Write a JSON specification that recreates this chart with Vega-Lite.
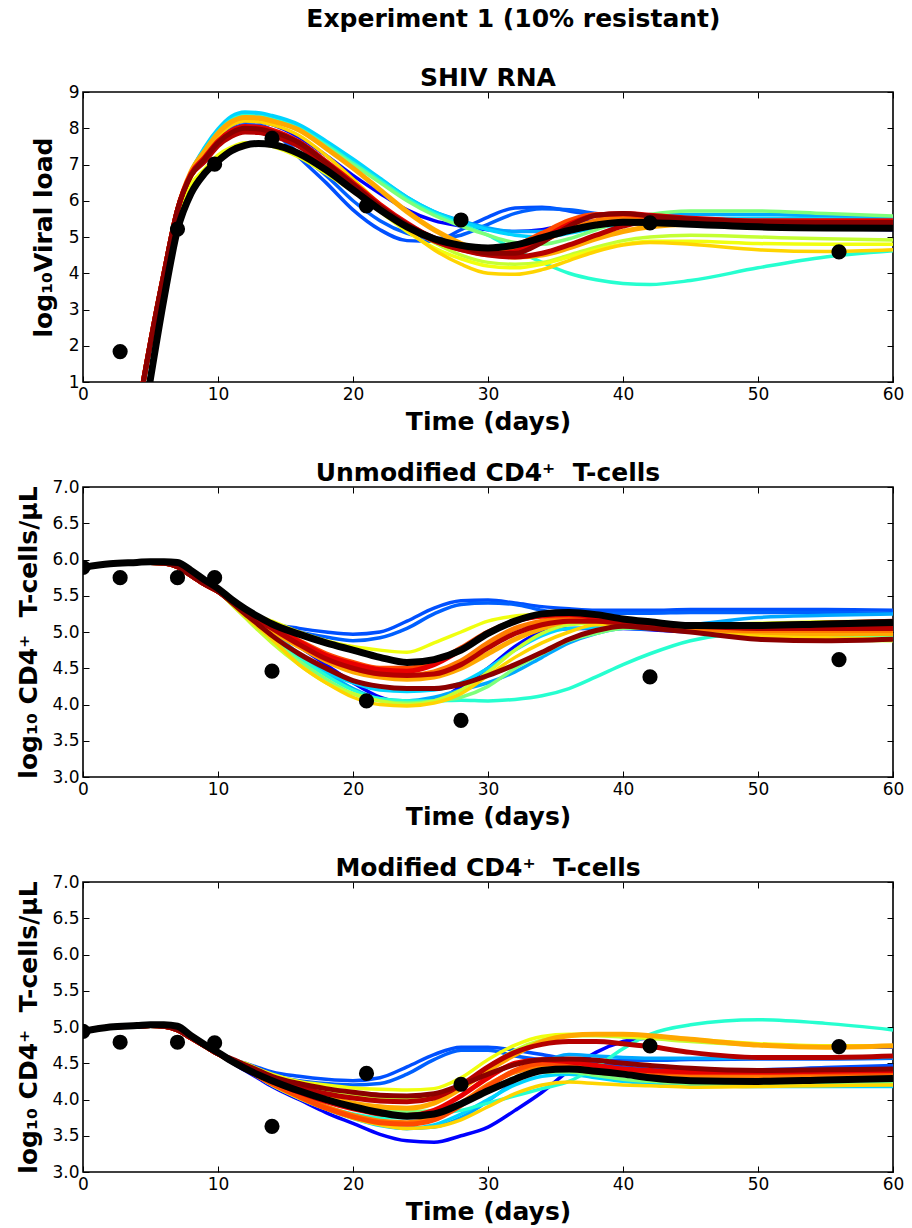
{
  "$schema": "https://vega.github.io/schema/vega-lite/v6.json",
  "background": "white",
  "padding": {"left": 16, "top": 7, "right": 10, "bottom": 5},
  "title": {"text": "Experiment 1 (10% resistant)", "fontSize": 25, "anchor": "middle", "offset": 33, "dx": 53},
  "spacing": 25,
  "config": {
    "font": "DejaVu Sans",
    "view": {"stroke": "black", "strokeWidth": 1.6},
    "axis": {"grid": false, "domain": false, "tickColor": "black", "tickSize": -6, "tickWidth": 1, "labelFont": "DejaVu Sans", "labelFontSize": 17, "labelColor": "black", "titleFont": "DejaVu Sans", "titleFontSize": 25, "titleFontWeight": "bold", "titleColor": "black", "labelFlush": false, "labelOverlap": false, "labelPadding": 10},
    "title": {"font": "DejaVu Sans", "fontSize": 25, "fontWeight": "bold", "color": "black", "offset": -8}
  },
  "datasets": {
    "rna": [
      {"t":0,"r01":-9,"r02":-9,"r03":-9,"r04":-9,"r05":-9,"r06":-9,"r07":-9,"r08":-9,"r09":-9,"r10":-9,"r11":-9,"r12":-9,"r13":-9,"r14":-9,"r15":-9,"r16":-9,"best":-9},
      {"t":2,"r01":-5,"r02":-5,"r03":-5,"r04":-5,"r05":-5,"r06":-5,"r07":-5,"r08":-5,"r09":-5,"r10":-5,"r11":-5,"r12":-5,"r13":-5,"r14":-5,"r15":-5,"r16":-5,"best":-5.5},
      {"t":4,"r01":0,"r02":0,"r03":0,"r04":0,"r05":0,"r06":0,"r07":0,"r08":0,"r09":0,"r10":0,"r11":0,"r12":0,"r13":0,"r14":0,"r15":0,"r16":0,"best":-1.2},
      {"t":5,"r01":2.1,"r02":2.1,"r03":2.1,"r04":2.1,"r05":2.1,"r06":2.1,"r07":2.1,"r08":2.1,"r09":2.1,"r10":2.1,"r11":2.1,"r12":2.1,"r13":2.1,"r14":2.1,"r15":2.1,"r16":2.1,"best":1.1},
      {"t":6,"r01":4.0,"r02":4.0,"r03":4.0,"r04":4.0,"r05":4.0,"r06":4.0,"r07":4.0,"r08":4.0,"r09":3.9,"r10":4.0,"r11":4.0,"r12":4.0,"r13":4.0,"r14":4.0,"r15":4.0,"r16":4.0,"best":3.3},
      {"t":7,"r01":5.75,"r02":5.75,"r03":5.75,"r04":5.75,"r05":5.75,"r06":5.75,"r07":5.75,"r08":5.75,"r09":5.55,"r10":5.75,"r11":5.75,"r12":5.75,"r13":5.75,"r14":5.75,"r15":5.75,"r16":5.75,"best":5.2},
      {"t":8,"r01":6.75,"r02":6.75,"r03":6.75,"r04":6.8,"r05":6.8,"r06":6.8,"r07":6.8,"r08":6.75,"r09":6.45,"r10":6.75,"r11":6.8,"r12":6.7,"r13":6.7,"r14":6.75,"r15":6.7,"r16":6.7,"best":6.2},
      {"t":9,"r01":7.29,"r02":7.22,"r03":7.19,"r04":7.43,"r05":7.47,"r06":7.4,"r07":7.36,"r08":7.19,"r09":6.87,"r10":7.29,"r11":7.36,"r12":7.15,"r13":7.12,"r14":7.19,"r15":7.08,"r16":7.15,"best":6.75},
      {"t":10,"r01":7.77,"r02":7.69,"r03":7.64,"r04":7.94,"r05":7.98,"r06":7.9,"r07":7.86,"r08":7.64,"r09":7.26,"r10":7.77,"r11":7.86,"r12":7.6,"r13":7.56,"r14":7.64,"r15":7.52,"r16":7.6,"best":7.1},
      {"t":11,"r01":8.08,"r02":7.98,"r03":7.93,"r04":8.28,"r05":8.33,"r06":8.23,"r07":8.18,"r08":7.93,"r09":7.48,"r10":8.08,"r11":8.18,"r12":7.88,"r13":7.83,"r14":7.93,"r15":7.78,"r16":7.88,"best":7.38},
      {"t":12,"r01":8.2,"r02":8.1,"r03":8.05,"r04":8.4,"r05":8.45,"r06":8.35,"r07":8.3,"r08":8.05,"r09":7.6,"r10":8.2,"r11":8.3,"r12":8.0,"r13":7.95,"r14":8.05,"r15":7.9,"r16":8.0,"best":7.53},
      {"t":13,"r01":8.18,"r02":8.08,"r03":8.03,"r04":8.38,"r05":8.43,"r06":8.33,"r07":8.28,"r08":8.03,"r09":7.58,"r10":8.18,"r11":8.28,"r12":7.98,"r13":7.93,"r14":8.03,"r15":7.88,"r16":7.98,"best":7.58},
      {"t":14,"r01":8.1,"r02":7.95,"r03":7.93,"r04":8.3,"r05":8.35,"r06":8.25,"r07":8.2,"r08":7.93,"r09":7.5,"r10":8.1,"r11":8.2,"r12":7.9,"r13":7.85,"r14":7.95,"r15":7.8,"r16":7.9,"best":7.55},
      {"t":16,"r01":7.75,"r02":7.2,"r03":7.3,"r04":8.05,"r05":8.1,"r06":8.0,"r07":7.95,"r08":7.6,"r09":7.2,"r10":7.8,"r11":7.95,"r12":7.6,"r13":7.55,"r14":7.62,"r15":7.5,"r16":7.6,"best":7.3},
      {"t":18,"r01":7.25,"r02":6.5,"r03":6.7,"r04":7.6,"r05":7.65,"r06":7.55,"r07":7.5,"r08":7.05,"r09":6.75,"r10":7.25,"r11":7.45,"r12":7.05,"r13":7.0,"r14":7.08,"r15":6.95,"r16":7.05,"best":6.85},
      {"t":20,"r01":6.7,"r02":5.75,"r03":6.0,"r04":7.1,"r05":7.15,"r06":7.05,"r07":7.0,"r08":6.45,"r09":6.25,"r10":6.6,"r11":6.9,"r12":6.45,"r13":6.4,"r14":6.5,"r15":6.35,"r16":6.45,"best":6.3},
      {"t":22,"r01":6.2,"r02":5.2,"r03":5.45,"r04":6.6,"r05":6.62,"r06":6.55,"r07":6.5,"r08":5.85,"r09":5.7,"r10":5.9,"r11":6.3,"r12":5.85,"r13":5.8,"r14":5.9,"r15":5.78,"r16":5.85,"best":5.75},
      {"t":24,"r01":5.75,"r02":4.9,"r03":5.1,"r04":6.1,"r05":6.1,"r06":6.05,"r07":6.0,"r08":5.3,"r09":5.15,"r10":5.2,"r11":5.7,"r12":5.35,"r13":5.3,"r14":5.38,"r15":5.28,"r16":5.35,"best":5.28},
      {"t":26,"r01":5.45,"r02":4.88,"r03":4.95,"r04":5.7,"r05":5.7,"r06":5.65,"r07":5.6,"r08":4.85,"r09":4.7,"r10":4.65,"r11":5.2,"r12":4.95,"r13":4.9,"r14":4.95,"r15":4.9,"r16":4.98,"best":4.95},
      {"t":28,"r01":5.3,"r02":5.2,"r03":5.05,"r04":5.45,"r05":5.42,"r06":5.35,"r07":5.3,"r08":4.5,"r09":4.4,"r10":4.25,"r11":4.82,"r12":4.7,"r13":4.65,"r14":4.68,"r15":4.65,"r16":4.75,"best":4.77},
      {"t":30,"r01":5.2,"r02":5.55,"r03":5.35,"r04":5.25,"r05":5.2,"r06":5.05,"r07":5.05,"r08":4.3,"r09":4.2,"r10":4.0,"r11":4.55,"r12":4.58,"r13":4.55,"r14":4.52,"r15":4.5,"r16":4.55,"best":4.7},
      {"t":32,"r01":5.15,"r02":5.8,"r03":5.65,"r04":5.15,"r05":5.05,"r06":4.65,"r07":4.85,"r08":4.25,"r09":4.15,"r10":3.97,"r11":4.45,"r12":4.65,"r13":4.75,"r14":4.6,"r15":4.45,"r16":4.55,"best":4.78},
      {"t":34,"r01":5.2,"r02":5.82,"r03":5.78,"r04":5.15,"r05":5.0,"r06":4.3,"r07":4.8,"r08":4.3,"r09":4.25,"r10":4.1,"r11":4.5,"r12":4.9,"r13":5.1,"r14":4.95,"r15":4.55,"r16":4.85,"best":4.98},
      {"t":36,"r01":5.35,"r02":5.72,"r03":5.75,"r04":5.25,"r05":5.1,"r06":4.0,"r07":4.95,"r08":4.5,"r09":4.45,"r10":4.35,"r11":4.7,"r12":5.2,"r13":5.45,"r14":5.35,"r15":4.78,"r16":5.3,"best":5.18},
      {"t":38,"r01":5.45,"r02":5.6,"r03":5.65,"r04":5.4,"r05":5.25,"r06":3.82,"r07":5.2,"r08":4.72,"r09":4.65,"r10":4.6,"r11":4.95,"r12":5.45,"r13":5.62,"r14":5.6,"r15":5.05,"r16":5.6,"best":5.33},
      {"t":40,"r01":5.5,"r02":5.5,"r03":5.55,"r04":5.5,"r05":5.35,"r06":3.72,"r07":5.45,"r08":4.9,"r09":4.8,"r10":4.78,"r11":5.15,"r12":5.55,"r13":5.62,"r14":5.65,"r15":5.3,"r16":5.65,"best":5.41},
      {"t":42,"r01":5.5,"r02":5.45,"r03":5.5,"r04":5.58,"r05":5.42,"r06":3.69,"r07":5.62,"r08":5.0,"r09":4.88,"r10":4.85,"r11":5.28,"r12":5.55,"r13":5.55,"r14":5.6,"r15":5.45,"r16":5.58,"best":5.4},
      {"t":45,"r01":5.45,"r02":5.45,"r03":5.45,"r04":5.62,"r05":5.5,"r06":3.8,"r07":5.72,"r08":5.05,"r09":4.88,"r10":4.8,"r11":5.35,"r12":5.5,"r13":5.48,"r14":5.52,"r15":5.48,"r16":5.5,"best":5.35},
      {"t":50,"r01":5.35,"r02":5.45,"r03":5.42,"r04":5.62,"r05":5.52,"r06":4.15,"r07":5.72,"r08":5.0,"r09":4.82,"r10":4.65,"r11":5.35,"r12":5.42,"r13":5.42,"r14":5.45,"r15":5.42,"r16":5.42,"best":5.28},
      {"t":55,"r01":5.25,"r02":5.4,"r03":5.38,"r04":5.58,"r05":5.5,"r06":4.45,"r07":5.65,"r08":4.95,"r09":4.8,"r10":4.6,"r11":5.32,"r12":5.38,"r13":5.4,"r14":5.45,"r15":5.38,"r16":5.4,"best":5.25},
      {"t":60,"r01":5.2,"r02":5.35,"r03":5.35,"r04":5.55,"r05":5.48,"r06":4.62,"r07":5.58,"r08":4.92,"r09":4.8,"r10":4.65,"r11":5.3,"r12":5.36,"r13":5.4,"r14":5.45,"r15":5.38,"r16":5.4,"best":5.24}
    ],
    "unmod": [
      {"t":0,"r01":5.89,"r02":5.89,"r03":5.89,"r04":5.89,"r05":5.89,"r06":5.89,"r07":5.89,"r08":5.89,"r09":5.89,"r10":5.89,"r11":5.89,"r12":5.89,"r13":5.89,"r14":5.89,"r15":5.89,"r16":5.89,"best":5.89},
      {"t":2,"r01":5.94,"r02":5.94,"r03":5.94,"r04":5.94,"r05":5.94,"r06":5.94,"r07":5.94,"r08":5.94,"r09":5.94,"r10":5.94,"r11":5.94,"r12":5.94,"r13":5.94,"r14":5.94,"r15":5.94,"r16":5.94,"best":5.94},
      {"t":4,"r01":5.96,"r02":5.96,"r03":5.96,"r04":5.96,"r05":5.96,"r06":5.96,"r07":5.96,"r08":5.96,"r09":5.96,"r10":5.96,"r11":5.96,"r12":5.96,"r13":5.96,"r14":5.96,"r15":5.96,"r16":5.96,"best":5.96},
      {"t":5,"r01":5.96,"r02":5.96,"r03":5.96,"r04":5.96,"r05":5.96,"r06":5.96,"r07":5.96,"r08":5.96,"r09":5.96,"r10":5.96,"r11":5.96,"r12":5.96,"r13":5.96,"r14":5.96,"r15":5.96,"r16":5.96,"best":5.97},
      {"t":6,"r01":5.95,"r02":5.95,"r03":5.95,"r04":5.95,"r05":5.95,"r06":5.95,"r07":5.95,"r08":5.95,"r09":5.95,"r10":5.95,"r11":5.95,"r12":5.95,"r13":5.95,"r14":5.95,"r15":5.95,"r16":5.95,"best":5.97},
      {"t":7,"r01":5.9,"r02":5.9,"r03":5.9,"r04":5.9,"r05":5.9,"r06":5.9,"r07":5.9,"r08":5.9,"r09":5.9,"r10":5.9,"r11":5.9,"r12":5.9,"r13":5.9,"r14":5.9,"r15":5.9,"r16":5.9,"best":5.96},
      {"t":8,"r01":5.78,"r02":5.78,"r03":5.78,"r04":5.78,"r05":5.78,"r06":5.78,"r07":5.78,"r08":5.78,"r09":5.78,"r10":5.78,"r11":5.78,"r12":5.78,"r13":5.78,"r14":5.78,"r15":5.78,"r16":5.78,"best":5.85},
      {"t":9,"r01":5.66,"r02":5.66,"r03":5.66,"r04":5.66,"r05":5.66,"r06":5.66,"r07":5.66,"r08":5.66,"r09":5.66,"r10":5.66,"r11":5.66,"r12":5.66,"r13":5.66,"r14":5.66,"r15":5.66,"r16":5.66,"best":5.72},
      {"t":10,"r01":5.56,"r02":5.56,"r03":5.56,"r04":5.56,"r05":5.56,"r06":5.56,"r07":5.56,"r08":5.56,"r09":5.56,"r10":5.56,"r11":5.56,"r12":5.56,"r13":5.56,"r14":5.56,"r15":5.56,"r16":5.56,"best":5.6},
      {"t":11,"r01":5.43,"r02":5.43,"r03":5.43,"r04":5.42,"r05":5.41,"r06":5.4,"r07":5.39,"r08":5.38,"r09":5.43,"r10":5.39,"r11":5.42,"r12":5.42,"r13":5.43,"r14":5.43,"r15":5.42,"r16":5.41,"best":5.45},
      {"t":12,"r01":5.3,"r02":5.3,"r03":5.3,"r04":5.28,"r05":5.26,"r06":5.25,"r07":5.22,"r08":5.2,"r09":5.3,"r10":5.22,"r11":5.28,"r12":5.28,"r13":5.3,"r14":5.3,"r15":5.28,"r16":5.25,"best":5.32},
      {"t":13,"r01":5.17,"r02":5.2,"r03":5.19,"r04":5.14,"r05":5.12,"r06":5.1,"r07":5.06,"r08":5.02,"r09":5.22,"r10":5.06,"r11":5.15,"r12":5.16,"r13":5.19,"r14":5.19,"r15":5.16,"r16":5.1,"best":5.21},
      {"t":14,"r01":5.05,"r02":5.12,"r03":5.1,"r04":5.0,"r05":4.98,"r06":4.95,"r07":4.9,"r08":4.85,"r09":5.15,"r10":4.9,"r11":5.02,"r12":5.05,"r13":5.08,"r14":5.08,"r15":5.05,"r16":4.95,"best":5.11},
      {"t":16,"r01":4.8,"r02":5.05,"r03":5.0,"r04":4.7,"r05":4.7,"r06":4.65,"r07":4.6,"r08":4.55,"r09":5.0,"r10":4.55,"r11":4.8,"r12":4.82,"r13":4.88,"r14":4.87,"r15":4.83,"r16":4.7,"best":4.97},
      {"t":18,"r01":4.55,"r02":5.0,"r03":4.93,"r04":4.45,"r05":4.45,"r06":4.4,"r07":4.35,"r08":4.3,"r09":4.88,"r10":4.3,"r11":4.6,"r12":4.62,"r13":4.7,"r14":4.68,"r15":4.63,"r16":4.5,"best":4.85},
      {"t":20,"r01":4.3,"r02":4.97,"r03":4.88,"r04":4.22,"r05":4.3,"r06":4.2,"r07":4.15,"r08":4.15,"r09":4.8,"r10":4.1,"r11":4.45,"r12":4.5,"r13":4.58,"r14":4.56,"r15":4.5,"r16":4.33,"best":4.75},
      {"t":22,"r01":4.1,"r02":5.0,"r03":4.92,"r04":4.08,"r05":4.2,"r06":4.08,"r07":4.05,"r08":4.05,"r09":4.75,"r10":4.0,"r11":4.38,"r12":4.42,"r13":4.5,"r14":4.48,"r15":4.42,"r16":4.25,"best":4.65},
      {"t":24,"r01":4.02,"r02":5.15,"r03":5.05,"r04":4.05,"r05":4.18,"r06":4.05,"r07":4.02,"r08":4.0,"r09":4.72,"r10":3.98,"r11":4.35,"r12":4.4,"r13":4.5,"r14":4.46,"r15":4.4,"r16":4.22,"best":4.58},
      {"t":26,"r01":4.05,"r02":5.33,"r03":5.25,"r04":4.1,"r05":4.2,"r06":4.05,"r07":4.05,"r08":4.05,"r09":4.85,"r10":4.02,"r11":4.38,"r12":4.45,"r13":4.58,"r14":4.55,"r15":4.42,"r16":4.22,"best":4.62},
      {"t":28,"r01":4.25,"r02":5.43,"r03":5.38,"r04":4.2,"r05":4.3,"r06":4.06,"r07":4.1,"r08":4.2,"r09":5.0,"r10":4.15,"r11":4.5,"r12":4.6,"r13":4.78,"r14":4.75,"r15":4.55,"r16":4.28,"best":4.75},
      {"t":30,"r01":4.5,"r02":5.44,"r03":5.4,"r04":4.3,"r05":4.5,"r06":4.05,"r07":4.25,"r08":4.45,"r09":5.15,"r10":4.4,"r11":4.7,"r12":4.85,"r13":5.0,"r14":4.98,"r15":4.78,"r16":4.4,"best":4.98},
      {"t":32,"r01":4.8,"r02":5.4,"r03":5.38,"r04":4.45,"r05":4.75,"r06":4.07,"r07":4.5,"r08":4.75,"r09":5.22,"r10":4.65,"r11":4.9,"r12":5.05,"r13":5.15,"r14":5.15,"r15":4.98,"r16":4.55,"best":5.15},
      {"t":34,"r01":5.0,"r02":5.35,"r03":5.3,"r04":4.65,"r05":4.95,"r06":4.12,"r07":4.7,"r08":4.98,"r09":5.25,"r10":4.85,"r11":5.05,"r12":5.15,"r13":5.22,"r14":5.22,"r15":5.1,"r16":4.72,"best":5.25},
      {"t":36,"r01":5.05,"r02":5.32,"r03":5.25,"r04":4.85,"r05":5.05,"r06":4.22,"r07":4.88,"r08":5.1,"r09":5.27,"r10":5.0,"r11":5.15,"r12":5.2,"r13":5.22,"r14":5.24,"r15":5.15,"r16":4.9,"best":5.27},
      {"t":38,"r01":5.05,"r02":5.3,"r03":5.25,"r04":4.98,"r05":5.06,"r06":4.38,"r07":4.98,"r08":5.12,"r09":5.22,"r10":5.1,"r11":5.18,"r12":5.18,"r13":5.18,"r14":5.2,"r15":5.15,"r16":5.02,"best":5.24},
      {"t":40,"r01":5.05,"r02":5.3,"r03":5.26,"r04":5.05,"r05":5.05,"r06":4.55,"r07":5.05,"r08":5.1,"r09":5.15,"r10":5.1,"r11":5.15,"r12":5.12,"r13":5.15,"r14":5.15,"r15":5.12,"r16":5.08,"best":5.18},
      {"t":42,"r01":5.03,"r02":5.3,"r03":5.26,"r04":5.08,"r05":5.04,"r06":4.7,"r07":5.06,"r08":5.07,"r09":5.12,"r10":5.08,"r11":5.1,"r12":5.08,"r13":5.12,"r14":5.12,"r15":5.1,"r16":5.05,"best":5.14},
      {"t":45,"r01":5.0,"r02":5.31,"r03":5.27,"r04":5.1,"r05":5.02,"r06":4.88,"r07":5.05,"r08":5.0,"r09":5.1,"r10":5.05,"r11":5.05,"r12":5.05,"r13":5.1,"r14":5.1,"r15":5.08,"r16":5.0,"best":5.09},
      {"t":50,"r01":4.95,"r02":5.31,"r03":5.27,"r04":5.2,"r05":5.0,"r06":4.99,"r07":4.98,"r08":4.95,"r09":5.12,"r10":4.95,"r11":5.0,"r12":5.02,"r13":5.08,"r14":5.1,"r15":5.05,"r16":4.9,"best":5.09},
      {"t":55,"r01":4.95,"r02":5.31,"r03":5.27,"r04":5.23,"r05":5.0,"r06":5.0,"r07":4.96,"r08":4.9,"r09":5.14,"r10":4.92,"r11":4.98,"r12":5.02,"r13":5.09,"r14":5.12,"r15":5.05,"r16":4.88,"best":5.11},
      {"t":60,"r01":4.95,"r02":5.3,"r03":5.26,"r04":5.25,"r05":5.0,"r06":5.0,"r07":4.95,"r08":4.88,"r09":5.15,"r10":4.9,"r11":4.98,"r12":5.02,"r13":5.1,"r14":5.15,"r15":5.05,"r16":4.9,"best":5.13}
    ],
    "mod": [
      {"t":0,"r01":4.94,"r02":4.94,"r03":4.94,"r04":4.94,"r05":4.94,"r06":4.94,"r07":4.94,"r08":4.94,"r09":4.94,"r10":4.94,"r11":4.94,"r12":4.94,"r13":4.94,"r14":4.94,"r15":4.94,"r16":4.94,"best":4.94},
      {"t":2,"r01":5.0,"r02":5.0,"r03":5.0,"r04":5.0,"r05":5.0,"r06":5.0,"r07":5.0,"r08":5.0,"r09":5.0,"r10":5.0,"r11":5.0,"r12":5.0,"r13":5.0,"r14":5.0,"r15":5.0,"r16":5.0,"best":5.0},
      {"t":4,"r01":5.01,"r02":5.01,"r03":5.01,"r04":5.01,"r05":5.01,"r06":5.01,"r07":5.01,"r08":5.01,"r09":5.01,"r10":5.01,"r11":5.01,"r12":5.01,"r13":5.01,"r14":5.01,"r15":5.01,"r16":5.01,"best":5.02},
      {"t":5,"r01":5.02,"r02":5.02,"r03":5.02,"r04":5.02,"r05":5.02,"r06":5.02,"r07":5.02,"r08":5.02,"r09":5.02,"r10":5.02,"r11":5.02,"r12":5.02,"r13":5.02,"r14":5.02,"r15":5.02,"r16":5.02,"best":5.03},
      {"t":6,"r01":5.01,"r02":5.01,"r03":5.01,"r04":5.01,"r05":5.01,"r06":5.01,"r07":5.01,"r08":5.01,"r09":5.01,"r10":5.01,"r11":5.01,"r12":5.01,"r13":5.01,"r14":5.01,"r15":5.01,"r16":5.01,"best":5.03},
      {"t":7,"r01":4.96,"r02":4.96,"r03":4.96,"r04":4.96,"r05":4.96,"r06":4.96,"r07":4.96,"r08":4.96,"r09":4.96,"r10":4.96,"r11":4.96,"r12":4.96,"r13":4.96,"r14":4.96,"r15":4.96,"r16":4.96,"best":5.01},
      {"t":8,"r01":4.85,"r02":4.85,"r03":4.85,"r04":4.85,"r05":4.85,"r06":4.85,"r07":4.85,"r08":4.85,"r09":4.85,"r10":4.85,"r11":4.85,"r12":4.85,"r13":4.85,"r14":4.85,"r15":4.85,"r16":4.85,"best":4.88},
      {"t":9,"r01":4.74,"r02":4.74,"r03":4.74,"r04":4.74,"r05":4.74,"r06":4.74,"r07":4.74,"r08":4.74,"r09":4.74,"r10":4.74,"r11":4.74,"r12":4.74,"r13":4.74,"r14":4.74,"r15":4.74,"r16":4.74,"best":4.76},
      {"t":10,"r01":4.63,"r02":4.63,"r03":4.63,"r04":4.63,"r05":4.63,"r06":4.63,"r07":4.63,"r08":4.63,"r09":4.63,"r10":4.63,"r11":4.63,"r12":4.63,"r13":4.63,"r14":4.63,"r15":4.63,"r16":4.63,"best":4.65},
      {"t":11,"r01":4.51,"r02":4.56,"r03":4.55,"r04":4.52,"r05":4.52,"r06":4.52,"r07":4.54,"r08":4.55,"r09":4.56,"r10":4.52,"r11":4.54,"r12":4.53,"r13":4.53,"r14":4.54,"r15":4.55,"r16":4.56,"best":4.53},
      {"t":12,"r01":4.4,"r02":4.5,"r03":4.48,"r04":4.42,"r05":4.42,"r06":4.42,"r07":4.45,"r08":4.48,"r09":4.5,"r10":4.42,"r11":4.45,"r12":4.43,"r13":4.43,"r14":4.45,"r15":4.47,"r16":4.48,"best":4.43},
      {"t":13,"r01":4.29,"r02":4.44,"r03":4.4,"r04":4.31,"r05":4.31,"r06":4.31,"r07":4.35,"r08":4.39,"r09":4.42,"r10":4.31,"r11":4.35,"r12":4.32,"r13":4.32,"r14":4.35,"r15":4.38,"r16":4.4,"best":4.34},
      {"t":14,"r01":4.18,"r02":4.38,"r03":4.33,"r04":4.2,"r05":4.2,"r06":4.2,"r07":4.25,"r08":4.3,"r09":4.35,"r10":4.2,"r11":4.26,"r12":4.22,"r13":4.22,"r14":4.25,"r15":4.3,"r16":4.32,"best":4.26},
      {"t":16,"r01":4.0,"r02":4.32,"r03":4.26,"r04":4.02,"r05":4.02,"r06":4.03,"r07":4.1,"r08":4.18,"r09":4.25,"r10":4.02,"r11":4.12,"r12":4.05,"r13":4.04,"r14":4.1,"r15":4.17,"r16":4.22,"best":4.12},
      {"t":18,"r01":3.82,"r02":4.28,"r03":4.22,"r04":3.87,"r05":3.87,"r06":3.9,"r07":3.98,"r08":4.1,"r09":4.2,"r10":3.87,"r11":4.02,"r12":3.9,"r13":3.88,"r14":3.97,"r15":4.08,"r16":4.15,"best":4.0},
      {"t":20,"r01":3.67,"r02":4.26,"r03":4.2,"r04":3.75,"r05":3.74,"r06":3.8,"r07":3.9,"r08":4.05,"r09":4.16,"r10":3.74,"r11":3.95,"r12":3.78,"r13":3.76,"r14":3.87,"r15":4.02,"r16":4.1,"best":3.9},
      {"t":22,"r01":3.52,"r02":4.3,"r03":4.22,"r04":3.65,"r05":3.64,"r06":3.75,"r07":3.85,"r08":4.02,"r09":4.14,"r10":3.65,"r11":3.9,"r12":3.7,"r13":3.68,"r14":3.8,"r15":3.98,"r16":4.06,"best":3.82},
      {"t":24,"r01":3.43,"r02":4.45,"r03":4.35,"r04":3.6,"r05":3.6,"r06":3.75,"r07":3.83,"r08":4.0,"r09":4.13,"r10":3.6,"r11":3.88,"r12":3.68,"r13":3.66,"r14":3.78,"r15":3.97,"r16":4.05,"best":3.77},
      {"t":26,"r01":3.41,"r02":4.62,"r03":4.55,"r04":3.62,"r05":3.65,"r06":3.8,"r07":3.85,"r08":4.05,"r09":4.15,"r10":3.62,"r11":3.95,"r12":3.75,"r13":3.72,"r14":3.85,"r15":4.02,"r16":4.08,"best":3.8},
      {"t":28,"r01":3.5,"r02":4.72,"r03":4.68,"r04":3.75,"r05":3.8,"r06":3.85,"r07":3.95,"r08":4.2,"r09":4.3,"r10":3.72,"r11":4.15,"r12":3.95,"r13":3.92,"r14":4.05,"r15":4.2,"r16":4.2,"best":3.94},
      {"t":30,"r01":3.62,"r02":4.72,"r03":4.68,"r04":3.98,"r05":4.0,"r06":3.95,"r07":4.12,"r08":4.45,"r09":4.55,"r10":3.9,"r11":4.4,"r12":4.2,"r13":4.18,"r14":4.3,"r15":4.45,"r16":4.35,"best":4.12},
      {"t":32,"r01":3.85,"r02":4.68,"r03":4.6,"r04":4.25,"r05":4.2,"r06":4.05,"r07":4.3,"r08":4.68,"r09":4.75,"r10":4.08,"r11":4.62,"r12":4.38,"r13":4.4,"r14":4.5,"r15":4.65,"r16":4.48,"best":4.28},
      {"t":34,"r01":4.1,"r02":4.62,"r03":4.55,"r04":4.5,"r05":4.32,"r06":4.15,"r07":4.38,"r08":4.82,"r09":4.87,"r10":4.2,"r11":4.8,"r12":4.45,"r13":4.5,"r14":4.55,"r15":4.76,"r16":4.55,"best":4.4},
      {"t":36,"r01":4.4,"r02":4.55,"r03":4.53,"r04":4.62,"r05":4.35,"r06":4.25,"r07":4.38,"r08":4.88,"r09":4.9,"r10":4.24,"r11":4.88,"r12":4.42,"r13":4.48,"r14":4.52,"r15":4.8,"r16":4.56,"best":4.42},
      {"t":38,"r01":4.65,"r02":4.5,"r03":4.53,"r04":4.6,"r05":4.3,"r06":4.45,"r07":4.33,"r08":4.88,"r09":4.9,"r10":4.22,"r11":4.9,"r12":4.38,"r13":4.44,"r14":4.47,"r15":4.8,"r16":4.54,"best":4.39},
      {"t":40,"r01":4.8,"r02":4.45,"r03":4.54,"r04":4.58,"r05":4.25,"r06":4.7,"r07":4.28,"r08":4.86,"r09":4.88,"r10":4.2,"r11":4.9,"r12":4.35,"r13":4.4,"r14":4.42,"r15":4.77,"r16":4.5,"best":4.35},
      {"t":42,"r01":4.85,"r02":4.42,"r03":4.54,"r04":4.57,"r05":4.22,"r06":4.9,"r07":4.25,"r08":4.84,"r09":4.86,"r10":4.19,"r11":4.88,"r12":4.33,"r13":4.38,"r14":4.4,"r15":4.73,"r16":4.47,"best":4.3},
      {"t":45,"r01":4.82,"r02":4.4,"r03":4.55,"r04":4.57,"r05":4.2,"r06":5.03,"r07":4.22,"r08":4.8,"r09":4.83,"r10":4.17,"r11":4.83,"r12":4.32,"r13":4.37,"r14":4.38,"r15":4.65,"r16":4.43,"best":4.26},
      {"t":50,"r01":4.76,"r02":4.41,"r03":4.56,"r04":4.57,"r05":4.18,"r06":5.1,"r07":4.2,"r08":4.75,"r09":4.77,"r10":4.18,"r11":4.75,"r12":4.32,"r13":4.37,"r14":4.38,"r15":4.58,"r16":4.4,"best":4.25},
      {"t":55,"r01":4.73,"r02":4.44,"r03":4.56,"r04":4.57,"r05":4.18,"r06":5.05,"r07":4.21,"r08":4.73,"r09":4.74,"r10":4.19,"r11":4.72,"r12":4.32,"r13":4.37,"r14":4.39,"r15":4.58,"r16":4.41,"best":4.27},
      {"t":60,"r01":4.72,"r02":4.47,"r03":4.57,"r04":4.58,"r05":4.18,"r06":4.96,"r07":4.22,"r08":4.73,"r09":4.74,"r10":4.2,"r11":4.74,"r12":4.33,"r13":4.38,"r14":4.4,"r15":4.6,"r16":4.42,"best":4.29}
    ],
    "rna_obs": [
      {"t":2.75,"v":1.84},{"t":7,"v":5.22},{"t":9.75,"v":7.01},{"t":14,"v":7.72},{"t":21,"v":5.86},{"t":28,"v":5.47},{"t":42,"v":5.39},{"t":56,"v":4.59}
    ],
    "unmod_obs": [
      {"t":0,"v":5.89},{"t":2.75,"v":5.75},{"t":7,"v":5.75},{"t":9.75,"v":5.75},{"t":14,"v":4.46},{"t":21,"v":4.05},{"t":28,"v":3.78},{"t":42,"v":4.38},{"t":56,"v":4.62}
    ],
    "mod_obs": [
      {"t":0,"v":4.94},{"t":2.75,"v":4.79},{"t":7,"v":4.79},{"t":9.75,"v":4.78},{"t":14,"v":3.63},{"t":21,"v":4.36},{"t":28,"v":4.21},{"t":42,"v":4.74},{"t":56,"v":4.73}
    ]
  },
  "vconcat": [
    {
      "width": 810, "height": 290,
      "title": {"text": "SHIV RNA"},
      "layer": [
        {
          "data": {"name": "rna"},
          "transform": [{"fold": ["r01","r02","r03","r04","r05","r06","r07","r08","r09","r10"], "as": ["run","v"]}],
          "mark": {"type": "line", "interpolate": "monotone", "clip": true, "strokeWidth": 3.5},
          "encoding": {
            "x": {"field": "t", "type": "quantitative", "scale": {"domain": [0, 60], "nice": false}, "axis": {"values": [0,10,20,30,40,50,60], "title": "Time (days)", "titlePadding": 7}},
            "y": {"field": "v", "type": "quantitative", "scale": {"domain": [1, 9], "nice": false, "zero": false}, "axis": {"values": [1,2,3,4,5,6,7,8,9], "title": "log₁₀Viral load", "titlePadding": 12}},
            "color": {"field": "run", "type": "nominal", "legend": null, "scale": {"domain": ["r01","r02","r03","r04","r05","r06","r07","r08","r09","r10","r11","r12","r13","r14","r15","r16"], "range": ["#0000ff","#0050ff","#0060ff","#00a8ff","#00d4ff","#26ffd0","#7dff7a","#c4ff33","#f0ff0f","#ffd400","#ffa800","#ff7c00","#ff4a00","#e80000","#b50000","#8b0000"]}}
          }
        },
        {
          "data": {"name": "rna"},
          "transform": [{"fold": ["r11","r12","r13","r14","r15","r16"], "as": ["run","v"]}],
          "mark": {"type": "line", "interpolate": "monotone", "clip": true, "strokeWidth": 5},
          "encoding": {
            "x": {"field": "t", "type": "quantitative", "axis": null},
            "y": {"field": "v", "type": "quantitative", "axis": null},
            "color": {"field": "run", "type": "nominal", "legend": null}
          }
        },
        {
          "data": {"name": "rna"},
          "mark": {"type": "line", "interpolate": "monotone", "clip": true, "color": "black", "strokeWidth": 7},
          "encoding": {
            "x": {"field": "t", "type": "quantitative", "axis": {"orient": "top", "values": [0,10,20,30,40,50,60], "labels": false, "title": null, "labelPadding": 0, "minExtent": 0, "maxExtent": 0}},
            "y": {"field": "best", "type": "quantitative", "axis": {"orient": "right", "values": [1,2,3,4,5,6,7,8,9], "labels": false, "title": null, "labelPadding": 0, "minExtent": 0, "maxExtent": 0}}
          }
        },
        {
          "data": {"name": "rna_obs"},
          "mark": {"type": "circle", "size": 230, "opacity": 1, "color": "black", "clip": true},
          "encoding": {
            "x": {"field": "t", "type": "quantitative", "axis": null},
            "y": {"field": "v", "type": "quantitative", "axis": null}
          }
        }
      ],
      "resolve": {"axis": {"x": "independent", "y": "independent"}}
    },
    {
      "width": 810, "height": 290,
      "title": {"text": "Unmodified CD4⁺\u00a0 T-cells"},
      "layer": [
        {
          "data": {"name": "unmod"},
          "transform": [{"fold": ["r01","r02","r03","r04","r05","r06","r07","r08","r09","r10"], "as": ["run","v"]}],
          "mark": {"type": "line", "interpolate": "monotone", "clip": true, "strokeWidth": 3.5},
          "encoding": {
            "x": {"field": "t", "type": "quantitative", "scale": {"domain": [0, 60], "nice": false}, "axis": {"values": [0,10,20,30,40,50,60], "title": "Time (days)", "titlePadding": 7}},
            "y": {"field": "v", "type": "quantitative", "scale": {"domain": [3, 7], "nice": false, "zero": false}, "axis": {"values": [3,3.5,4,4.5,5,5.5,6,6.5,7], "format": ".1f", "title": "log₁₀ CD4⁺\u00a0 T-cells/μL", "titlePadding": 10}},
            "color": {"field": "run", "type": "nominal", "legend": null, "scale": {"domain": ["r01","r02","r03","r04","r05","r06","r07","r08","r09","r10","r11","r12","r13","r14","r15","r16"], "range": ["#0000ff","#0050ff","#0060ff","#00a8ff","#00d4ff","#26ffd0","#7dff7a","#c4ff33","#f0ff0f","#ffd400","#ffa800","#ff7c00","#ff4a00","#e80000","#b50000","#8b0000"]}}
          }
        },
        {
          "data": {"name": "unmod"},
          "transform": [{"fold": ["r11","r12","r13","r14","r15","r16"], "as": ["run","v"]}],
          "mark": {"type": "line", "interpolate": "monotone", "clip": true, "strokeWidth": 5},
          "encoding": {
            "x": {"field": "t", "type": "quantitative", "axis": null},
            "y": {"field": "v", "type": "quantitative", "axis": null},
            "color": {"field": "run", "type": "nominal", "legend": null}
          }
        },
        {
          "data": {"name": "unmod"},
          "mark": {"type": "line", "interpolate": "monotone", "clip": true, "color": "black", "strokeWidth": 7},
          "encoding": {
            "x": {"field": "t", "type": "quantitative", "axis": {"orient": "top", "values": [0,10,20,30,40,50,60], "labels": false, "title": null, "labelPadding": 0, "minExtent": 0, "maxExtent": 0}},
            "y": {"field": "best", "type": "quantitative", "axis": {"orient": "right", "values": [3,3.5,4,4.5,5,5.5,6,6.5,7], "labels": false, "title": null, "labelPadding": 0, "minExtent": 0, "maxExtent": 0}}
          }
        },
        {
          "data": {"name": "unmod_obs"},
          "mark": {"type": "circle", "size": 230, "opacity": 1, "color": "black", "clip": true},
          "encoding": {
            "x": {"field": "t", "type": "quantitative", "axis": null},
            "y": {"field": "v", "type": "quantitative", "axis": null}
          }
        }
      ],
      "resolve": {"axis": {"x": "independent", "y": "independent"}}
    },
    {
      "width": 810, "height": 290,
      "title": {"text": "Modified CD4⁺\u00a0 T-cells"},
      "layer": [
        {
          "data": {"name": "mod"},
          "transform": [{"fold": ["r01","r02","r03","r04","r05","r06","r07","r08","r09","r10"], "as": ["run","v"]}],
          "mark": {"type": "line", "interpolate": "monotone", "clip": true, "strokeWidth": 3.5},
          "encoding": {
            "x": {"field": "t", "type": "quantitative", "scale": {"domain": [0, 60], "nice": false}, "axis": {"values": [0,10,20,30,40,50,60], "title": "Time (days)", "titlePadding": 7}},
            "y": {"field": "v", "type": "quantitative", "scale": {"domain": [3, 7], "nice": false, "zero": false}, "axis": {"values": [3,3.5,4,4.5,5,5.5,6,6.5,7], "format": ".1f", "title": "log₁₀ CD4⁺\u00a0 T-cells/μL", "titlePadding": 10}},
            "color": {"field": "run", "type": "nominal", "legend": null, "scale": {"domain": ["r01","r02","r03","r04","r05","r06","r07","r08","r09","r10","r11","r12","r13","r14","r15","r16"], "range": ["#0000ff","#0050ff","#0060ff","#00a8ff","#00d4ff","#26ffd0","#7dff7a","#c4ff33","#f0ff0f","#ffd400","#ffa800","#ff7c00","#ff4a00","#e80000","#b50000","#8b0000"]}}
          }
        },
        {
          "data": {"name": "mod"},
          "transform": [{"fold": ["r11","r12","r13","r14","r15","r16"], "as": ["run","v"]}],
          "mark": {"type": "line", "interpolate": "monotone", "clip": true, "strokeWidth": 5},
          "encoding": {
            "x": {"field": "t", "type": "quantitative", "axis": null},
            "y": {"field": "v", "type": "quantitative", "axis": null},
            "color": {"field": "run", "type": "nominal", "legend": null}
          }
        },
        {
          "data": {"name": "mod"},
          "mark": {"type": "line", "interpolate": "monotone", "clip": true, "color": "black", "strokeWidth": 7},
          "encoding": {
            "x": {"field": "t", "type": "quantitative", "axis": {"orient": "top", "values": [0,10,20,30,40,50,60], "labels": false, "title": null, "labelPadding": 0, "minExtent": 0, "maxExtent": 0}},
            "y": {"field": "best", "type": "quantitative", "axis": {"orient": "right", "values": [3,3.5,4,4.5,5,5.5,6,6.5,7], "labels": false, "title": null, "labelPadding": 0, "minExtent": 0, "maxExtent": 0}}
          }
        },
        {
          "data": {"name": "mod_obs"},
          "mark": {"type": "circle", "size": 230, "opacity": 1, "color": "black", "clip": true},
          "encoding": {
            "x": {"field": "t", "type": "quantitative", "axis": null},
            "y": {"field": "v", "type": "quantitative", "axis": null}
          }
        }
      ],
      "resolve": {"axis": {"x": "independent", "y": "independent"}}
    }
  ]
}
